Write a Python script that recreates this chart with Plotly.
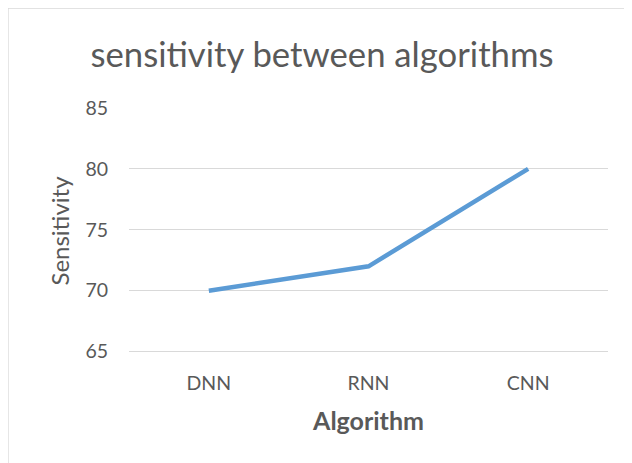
import plotly.graph_objects as go

categories = ["DNN", "RNN", "CNN"]
sensitivity = [70, 72, 80]
y_ticks = [65, 70, 75, 80, 85]

# page is offset by the 8px body margin, so figure pixel = page pixel - 8
W, H = 632, 463
L, R, T = 121, 32, 100
y_lo, y_hi = 64.8, 85
unit = 244 / 20.0
ph = (y_hi - y_lo) * unit
B = H - T - ph
pw = W - L - R

def px_x(p):
    return (p - L) / pw

def px_y(p):
    return 1 - (p - T) / ph

font_family = "Lato, 'Open Sans', sans-serif"
grey = "#595959"

fig = go.Figure()
fig.add_trace(go.Scatter(
    x=categories, y=sensitivity, mode="lines",
    line=dict(color="#5B9BD5", width=4.5),
    showlegend=False,
))

fig.update_layout(
    width=W, height=H,
    margin=dict(l=L, r=R, t=T, b=B, autoexpand=False),
    paper_bgcolor="white", plot_bgcolor="white",
    font=dict(family=font_family, color=grey),
    title=dict(text="sensitivity between algorithms", x=314 / W, xref="container",
               xanchor="center", y=1 - 47 / H, yref="container", yanchor="middle",
               automargin=False,
               font=dict(size=34.7, color=grey, family=font_family)),
    xaxis=dict(range=[-0.5, 2.5], showgrid=False, showline=False, zeroline=False,
               automargin=False, ticks="", tickfont=dict(size=19.5, color=grey),
               ticklabelstandoff=15,
               title=dict(text="<b>Algorithm</b>", font=dict(size=25, color=grey), standoff=19)),
    yaxis=dict(range=[y_lo, y_hi], tickvals=y_ticks, showgrid=True, gridcolor="#D9D9D9",
               gridwidth=1.3, zeroline=False, showline=False, ticks="",
               automargin=False,
               ticklabelstandoff=20, tickfont=dict(size=19.5, color=grey),
               title=dict(text="Sensitivity", font=dict(size=24, color=grey), standoff=8)),
    shapes=[dict(type="rect", xref="paper", yref="paper",
                 x0=px_x(0), x1=px_x(W + 10), y0=px_y(H + 10), y1=px_y(0),
                 line=dict(color="#D9D9D9", width=1.3), layer="below")],
)

fig.write_html("out.html")
